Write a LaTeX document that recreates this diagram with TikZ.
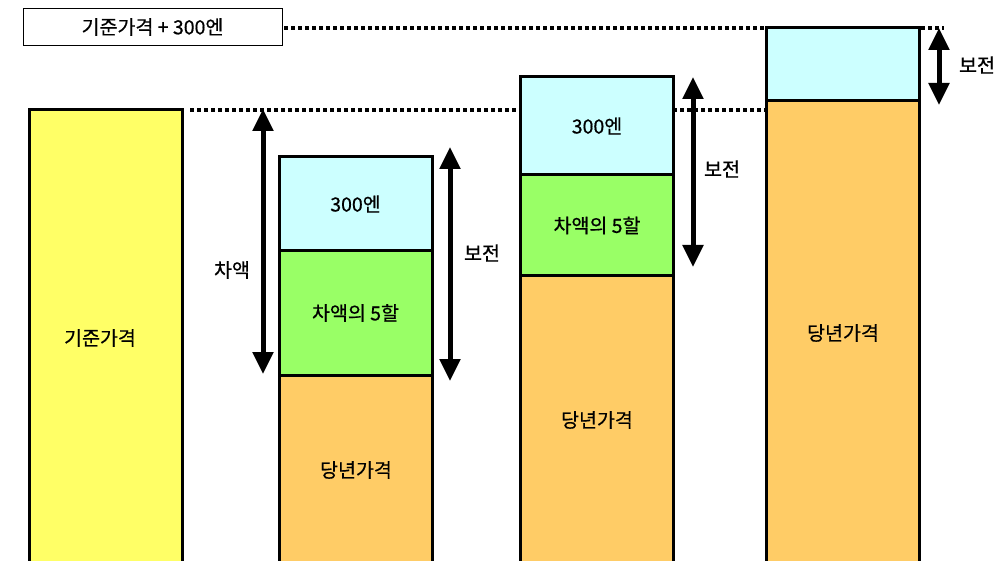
\documentclass[tikz,border=0pt]{standalone}
\usepackage{fontspec}
\setmainfont{Noto Sans CJK KR}[FakeBold=0.6]
\usetikzlibrary{arrows.meta}
\definecolor{cyel}{HTML}{FFFF66}
\definecolor{ccya}{HTML}{CCFFFF}
\definecolor{cgrn}{HTML}{99FF66}
\definecolor{corg}{HTML}{FFCC66}
\begin{document}
\begin{tikzpicture}[x=1pt,y=-1pt,
  bar/.style={draw=black,line width=3pt,minimum width=153pt,inner sep=0pt,font=\fontsize{19.5}{21}\selectfont},
  dots/.style={line width=3.5pt,dash pattern=on 3.5pt off 3.5pt},
  dim/.style={line width=5pt,{Triangle[width=20pt,length=22pt]}-{Triangle[width=20pt,length=22pt]},shorten <=-2pt,shorten >=-2pt},
  lab/.style={font=\fontsize{19.5}{21}\selectfont,inner sep=0pt}]
\useasboundingbox (0,0) rectangle (998,561);
\clip (0,0) rectangle (998,561);
% dotted guide lines
\coordinate (g1a) at (284,28);
\coordinate (g1b) at (944,28);
\coordinate (g2a) at (190,110);
\coordinate (g2b) at (765,110);
\draw[dots] (g1a) -- (g1b);
\draw[dots] (g2a) -- (g2b);
% top box
\node[draw=black,line width=1pt,minimum width=259pt,minimum height=37pt,inner sep=0pt,font=\fontsize{19.5}{21}\selectfont] (top) at (152.5,27) {기준가격 + 300엔};
% bar 1
\node[bar,fill=cyel,minimum height=470pt] (b1) at (105.5,345) {};
\node[lab] (b1t) at (100,338) {기준가격};
% bar 2
\node[bar,fill=corg,minimum height=210pt] (b2o) at (355.5,480) {};
\node[lab] (b2ot) at (356,470) {당년가격};
\node[bar,fill=cgrn,minimum height=125pt] (b2g) at (355.5,313) {차액의 5할};
\node[bar,fill=ccya,minimum height=94pt] (b2c) at (355.5,204) {300엔};
% bar 3
\node[bar,fill=corg,minimum height=300pt] (b3o) at (597,426) {};
\node[lab] (b3ot) at (597,420) {당년가격};
\node[bar,fill=cgrn,minimum height=101pt] (b3g) at (597,225.5) {차액의 5할};
\node[bar,fill=ccya,minimum height=98pt] (b3c) at (597,126) {300엔};
% bar 4
\node[bar,fill=corg,minimum height=480pt] (b4o) at (843,340) {};
\node[lab] (b4ot) at (843,333) {당년가격};
\node[bar,fill=ccya,minimum height=73pt] (b4c) at (843,64) {};
% dimension arrows
\coordinate (d1t) at (263,111);
\coordinate (d1b) at (263,372);
\draw[dim] (d1b) -- (d1t);
\node[lab] (d1l) at (232,270) {차액};
\coordinate (d2t) at (450,149);
\coordinate (d2b) at (450,379);
\draw[dim] (d2b) -- (d2t);
\node[lab] (d2l) at (482,253) {보전};
\coordinate (d3t) at (693,79);
\coordinate (d3b) at (693,265);
\draw[dim] (d3b) -- (d3t);
\node[lab] (d3l) at (722,169) {보전};
\coordinate (d4t) at (939,30);
\coordinate (d4b) at (939,103);
\draw[dim] (d4b) -- (d4t);
\node[lab] (d4l) at (977,65) {보전};
\end{tikzpicture}
\end{document}
